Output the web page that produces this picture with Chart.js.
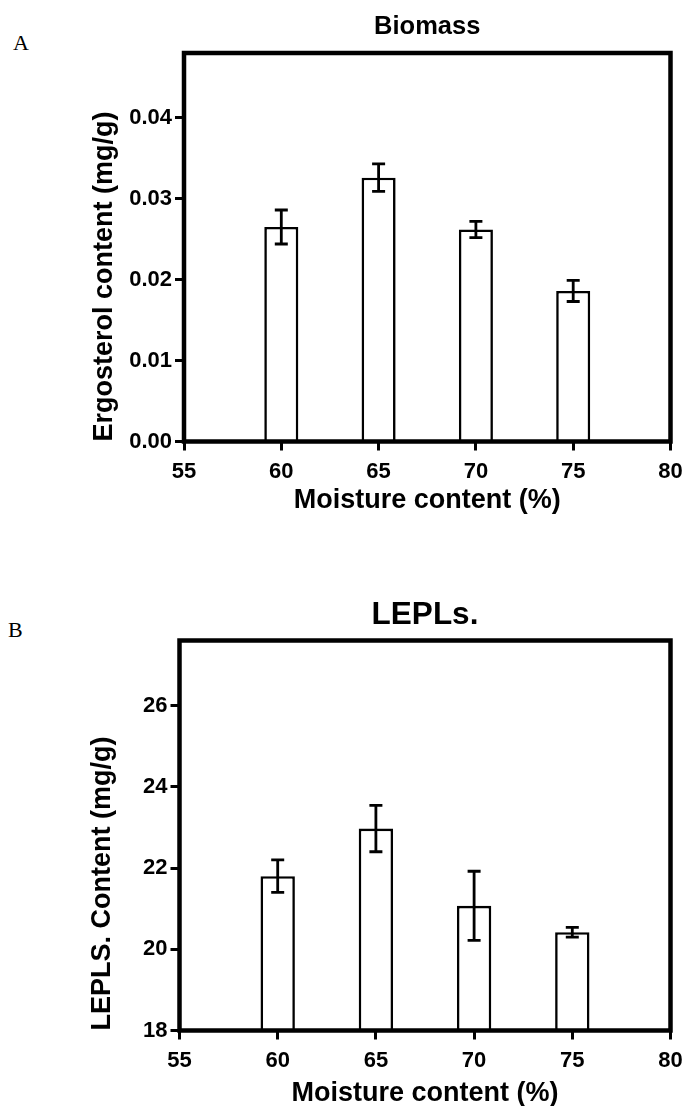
<!DOCTYPE html>
<html>
<head>
<meta charset="utf-8">
<script src="https://cdn.jsdelivr.net/npm/chart.js@4.4.1/dist/chart.umd.min.js"></script>
<style>
body { margin: 0; background: #fff; width: 684px; height: 1106px; overflow: hidden; position: relative; }
.panel { position: absolute; font-family: "Liberation Serif", "Times New Roman", serif; font-size: 22px; line-height: 22px; color: #000; }
.box { position: absolute; left: 0; width: 684px; }
</style>
</head>
<body>
<div class="panel" style="left:13px; top:32px">A</div>
<div class="panel" style="left:8px; top:619px">B</div>
<div class="box" style="top:0px"><canvas id="chartA" width="684" height="530"></canvas></div>
<div class="box" style="top:560px"><canvas id="chartB" width="684" height="550"></canvas></div>

<script>
// x positions of the bars (moisture %)
var moisture = [60, 65, 70, 75];
var xTicks = [55, 60, 65, 70, 75, 80];

// panel A - ergosterol
var ergosterol = [0.0265, 0.0326, 0.0262, 0.0186];
var ergosterolErr = [0.0021, 0.0017, 0.0010, 0.0013];
var ergTicks = [0, 0.01, 0.02, 0.03, 0.04];

// panel B - LEPLs
var lepls = [21.8, 22.97, 21.07, 20.42];
var leplsErr = [0.40, 0.57, 0.85, 0.12];
var leplsTicks = [18, 20, 22, 24, 26];

var FONT = '"Liberation Sans", Arial, sans-serif';

// error bars + the box round the plot
var errorBars = {
    id: 'errorBars',
    afterDatasetsDraw: function(chart, args, opts) {
        var ctx = chart.ctx;
        var xs = chart.scales.x;
        var ys = chart.scales.y;
        var pts = chart.data.datasets[0].data;
        ctx.save();
        ctx.strokeStyle = '#000';
        ctx.lineWidth = 2.8;
        pts.forEach(function(p, i) {
            var x = xs.getPixelForValue(p.x);
            var top = ys.getPixelForValue(p.y + opts.err[i]);
            var bot = ys.getPixelForValue(p.y - opts.err[i]);
            ctx.beginPath();
            ctx.moveTo(x, top); ctx.lineTo(x, bot);
            ctx.moveTo(x - 6.5, top); ctx.lineTo(x + 6.5, top);
            ctx.moveTo(x - 6.5, bot); ctx.lineTo(x + 6.5, bot);
            ctx.stroke();
        });
        var a = chart.chartArea;
        ctx.lineWidth = 4.5;
        ctx.strokeRect(a.left, a.top, a.right - a.left, a.bottom - a.top);
        ctx.restore();
    }
};

function makeChart(id, values, errs, yTicks, s)
{
    var points = moisture.map(function(m, i) { return {x: m, y: values[i]}; });

    return new Chart(document.getElementById(id), {
        type: 'bar',
        data: {
            datasets: [{
                data: points,
                backgroundColor: '#fff',
                borderColor: '#000',
                borderWidth: 2.6,
                barPercentage: 0.35,
                categoryPercentage: 1
            }]
        },
        options: {
            responsive: false,
            animation: false,
            layout: { padding: { left: 0, right: 13.5, top: 0, bottom: 0 } },
            plugins: {
                legend: { display: false },
                tooltip: { enabled: false },
                title: {
                    display: true,
                    text: s.title,
                    fullSize: false,
                    color: '#000',
                    font: { family: FONT, weight: 'bold', size: s.titleSize },
                    padding: { top: s.titleTop, bottom: s.titleBottom }
                },
                errorBars: { err: errs }
            },
            scales: {
                x: {
                    type: 'linear',
                    min: 55,
                    max: 80,
                    offset: false,
                    afterBuildTicks: function(sc) { sc.ticks = xTicks.map(function(v) { return {value: v}; }); },
                    afterFit: function(sc) {
                        sc.height = s.xHeight;
                        sc.paddingLeft = 0;
                        sc.paddingRight = 0;
                    },
                    grid: { display: true, offset: false, drawOnChartArea: false, drawTicks: true, tickLength: 9, tickWidth: 3, tickColor: '#000' },
                    border: { display: false },
                    ticks: { color: '#000', padding: 8.5, maxRotation: 0, autoSkip: false, font: { family: FONT, weight: 'bold', size: 22 } },
                    title: {
                        display: true,
                        text: 'Moisture content (%)',
                        color: '#000',
                        font: { family: FONT, weight: 'bold', size: 27 },
                        padding: { top: 0, bottom: s.xTitlePad }
                    }
                },
                y: {
                    min: s.yMin,
                    max: s.yMax,
                    afterBuildTicks: function(sc) { sc.ticks = yTicks.map(function(v) { return {value: v}; }); },
                    afterFit: function(sc) { sc.width = s.yWidth; },
                    grid: { display: true, drawOnChartArea: false, drawTicks: true, tickLength: 9, tickWidth: 3, tickColor: '#000' },
                    border: { display: false },
                    ticks: { color: '#000', padding: 3, font: { family: FONT, weight: 'bold', size: 22 }, callback: s.fmt },
                    title: {
                        display: true,
                        text: s.yTitle,
                        align: 'start',
                        color: '#000',
                        font: { family: FONT, weight: 'bold', size: 27 },
                        padding: { top: s.yTitlePad, bottom: 0 }
                    }
                }
            }
        },
        plugins: [errorBars]
    });
}

makeChart('chartA', ergosterol, ergosterolErr, ergTicks, {
    title: 'Biomass', titleSize: 25.5, titleTop: 11.7, titleBottom: 10.7,
    yMin: 0, yMax: 0.048, yWidth: 184, yTitle: 'Ergosterol content (mg/g)', yTitlePad: 88.8,
    xHeight: 88.5, xTitlePad: 12.8,
    fmt: function(v) { return v.toFixed(2); }
});

makeChart('chartB', lepls, leplsErr, leplsTicks, {
    title: 'LEPLs.', titleSize: 31.5, titleTop: 36.6, titleBottom: 6.1,
    yMin: 18, yMax: 27.6, yWidth: 179.5, yTitle: 'LEPLS. Content (mg/g)', yTitlePad: 86.4,
    xHeight: 79.5, xTitlePad: 0,
    fmt: function(v) { return String(v); }
});
</script>
</body>
</html>
